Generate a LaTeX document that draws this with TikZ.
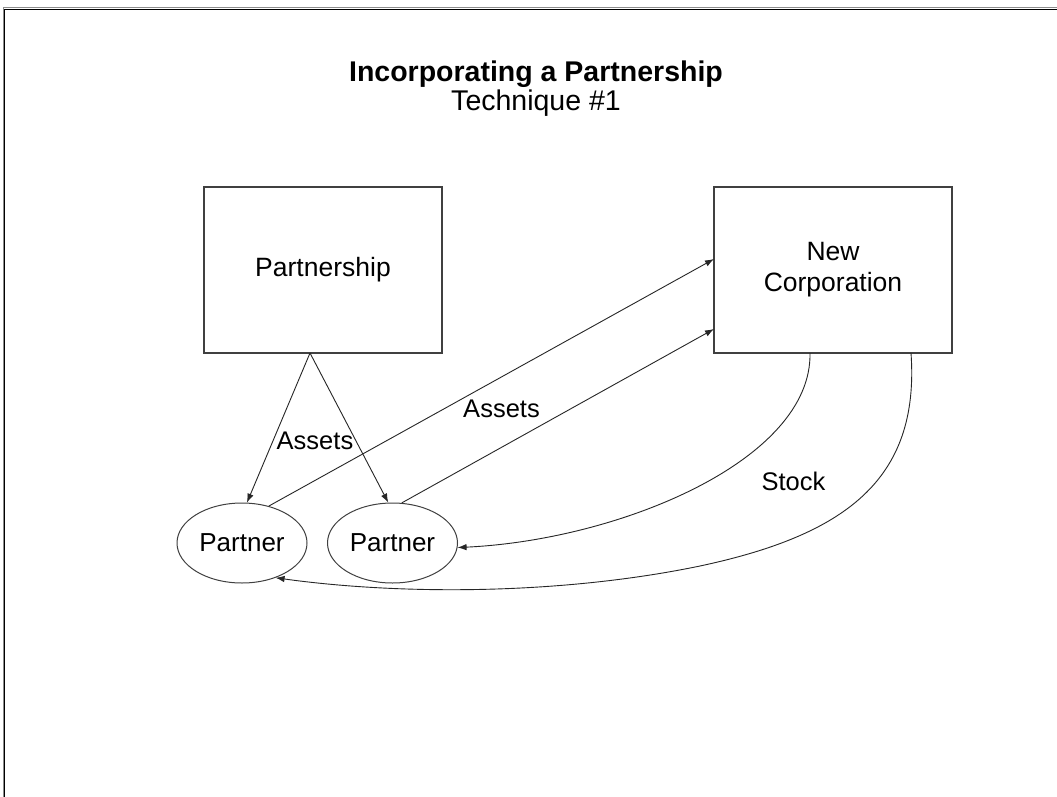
\documentclass[tikz,border=0pt]{standalone}
\usepackage{fontspec}
\setmainfont{Liberation Sans}
\usetikzlibrary{arrows.meta,shapes.geometric,calc}
\begin{document}
\begin{tikzpicture}[x=1pt,y=-1pt,
  box/.style={draw=black!75,line width=1.1pt,rectangle,minimum width=238pt,minimum height=166pt,inner sep=0pt,align=center,font=\fontsize{26.5}{31}\selectfont},
  partner/.style={draw=black!75,line width=1pt,ellipse,minimum width=130pt,minimum height=80pt,inner sep=0pt,font=\fontsize{26}{31}\selectfont},
  conn/.style={draw=black!85,line width=0.9pt,-{Latex[length=9pt,width=6.5pt]}},
  lbl/.style={inner sep=0pt,font=\fontsize{25.5}{31}\selectfont},
  ttl/.style={inner sep=0pt,anchor=base,font=\fontsize{28.5}{30}\selectfont}]
\useasboundingbox (0,0) rectangle (1057,797);
\fill[white] (0,0) rectangle (1057,797);
% frame
\draw[black!45,line width=1pt] (3,797) -- (3,8) -- (1057,8);
\draw[black,line width=1.5pt] (4.5,797) -- (4.5,9.5) -- (1057,9.5);
% title
\node[ttl,font=\bfseries\fontsize{28.5}{30}\selectfont] (title) at (536,82) {Incorporating a Partnership};
\node[ttl] (sub) at (536,111) {Technique \#1};
% boxes
\node[box] (pship) at (323,270) {Partnership};
\node[box] (nc) at (833,270) {New\\Corporation};
\node[partner] (lp) at (242,543) {Partner};
\node[partner] (rp) at (392.5,543) {Partner};
% points
\coordinate (apex) at (310,353);
\coordinate (nc1) at (714,259);
\coordinate (nc2) at (714,329);
\coordinate (ncb1) at (810,353);
\coordinate (ncb2) at (911,353);
% connectors
\draw[conn] (apex) -- (lp.83);
\draw[conn] (apex) -- (rp.96);
\draw[conn] (lp.54) -- (nc1);
\draw[conn] (rp.77) -- (nc2);
\draw[conn] (ncb1) .. controls (812,460) and (620,540) .. (rp.-4);
\draw[conn] (ncb2) .. controls (920,480) and (845,535) .. (700,566) .. controls (560,595) and (400,595) .. (lp.-46);
% labels
\node[lbl] (a1) at (315,441) {Assets};
\node[lbl] (a2) at (501.5,409) {Assets};
\node[lbl] (stock) at (793.5,481) {Stock};
\end{tikzpicture}
\end{document}
